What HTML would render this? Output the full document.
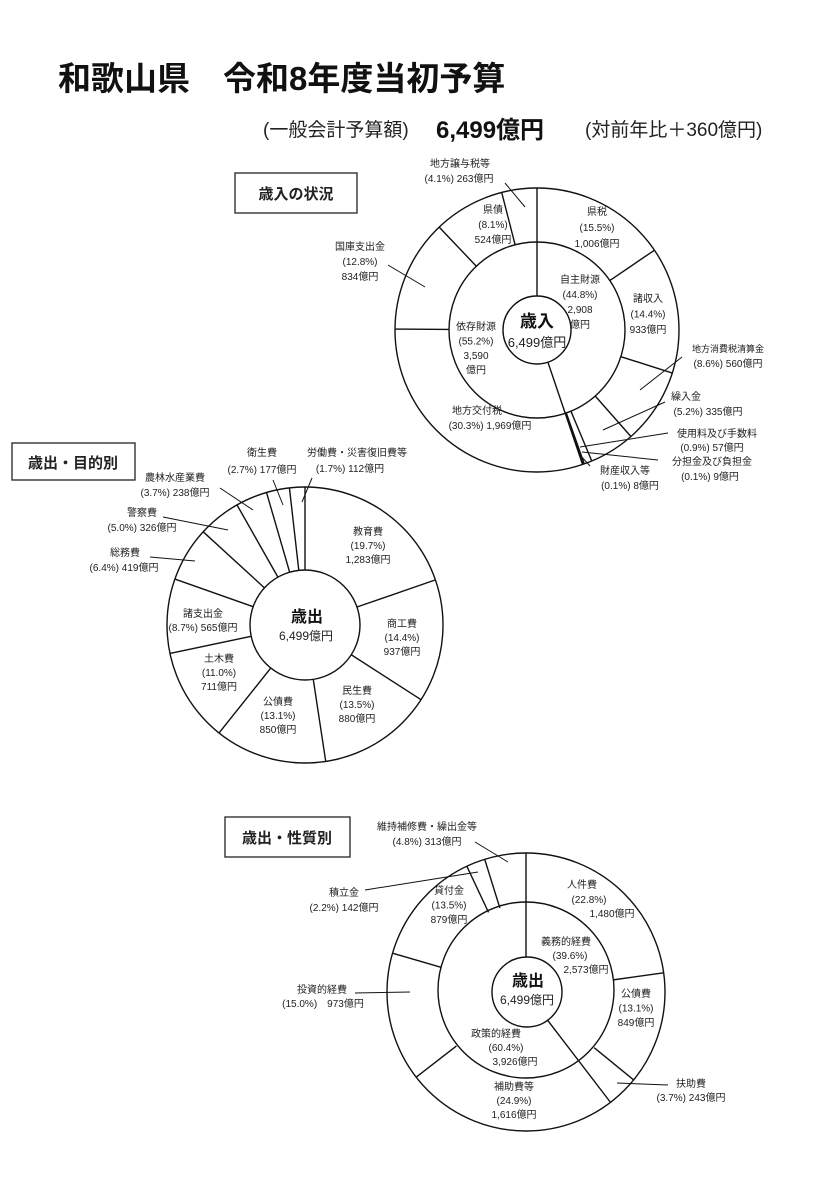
<!DOCTYPE html>
<html><head><meta charset="utf-8"><style>
html,body{margin:0;padding:0;background:#fff;}
svg{display:block;font-family:"Liberation Sans","Noto Sans CJK JP",sans-serif;}
text{fill:#222;font-size:10px;}
</style></head><body>
<svg id="s" width="828" height="1197" viewBox="0 0 828 1197" xmlns="http://www.w3.org/2000/svg">
<text x="58" y="90" style="font-size:33px;font-weight:bold;fill:#111">和歌山県　令和8年度当初予算</text>
<text x="263" y="136" style="font-size:19px;fill:#222">(一般会計予算額)</text>
<text x="436" y="138" style="font-size:24px;font-weight:bold;fill:#111">6,499億円</text>
<text x="585" y="136" style="font-size:19px;fill:#222">(対前年比＋360億円)</text>

<rect x="235" y="173" width="122" height="40" fill="none" stroke="#222" stroke-width="1.3"/>
<text x="296" y="199" text-anchor="middle" style="font-size:15px;font-weight:bold">歳入の状況</text>
<rect x="12" y="443" width="123" height="37" fill="none" stroke="#222" stroke-width="1.3"/>
<text x="73" y="468" text-anchor="middle" style="font-size:15px;font-weight:bold">歳出・目的別</text>
<rect x="225" y="817" width="125" height="40" fill="none" stroke="#222" stroke-width="1.3"/>
<text x="287" y="843" text-anchor="middle" style="font-size:15px;font-weight:bold">歳出・性質別</text>
<g id="g" stroke="#111" stroke-width="1.4" fill="none"></g>
<g id="t" text-anchor="middle"></g>
</svg>
<script>
var g=document.getElementById('g'),t=document.getElementById('t'),NS='http://www.w3.org/2000/svg';
function el(p,n,a){var e=document.createElementNS(NS,n);for(var k in a)e.setAttribute(k,a[k]);p.appendChild(e);return e;}
function circ(cx,cy,r){el(g,'circle',{cx:cx,cy:cy,r:r});}
function rad(cx,cy,r1,r2,pc,w){var a=(-90+3.6*pc)*Math.PI/180;el(g,'line',{x1:cx+r1*Math.cos(a),y1:cy+r1*Math.sin(a),x2:cx+r2*Math.cos(a),y2:cy+r2*Math.sin(a),'stroke-width':w||1.4});}
function ln(a,b,c,d){el(g,'line',{x1:a,y1:b,x2:c,y2:d,'stroke-width':1});}
function tx(x,y,s,st){var e=el(t,'text',{x:x,y:y});if(st)e.setAttribute('style',st);e.textContent=s;}
function lab(x,y,arr,dy){for(var i=0;i<arr.length;i++)tx(x,y+i*(dy||15),arr[i]);}
// chart1
circ(537,330,142);circ(537,330,88);circ(537,330,34);
rad(537,330,34,142,0);rad(537,330,34,142,44.8);
[15.5,29.9,38.5,43.7,44.6,44.7,75.1,87.9,96.0].forEach(function(p){rad(537,330,88,142,p);});
lab(460,167,['地方譲与税等']);tx(459,182,'(4.1%) 263億円');ln(505,183,525,207);
lab(493,213,['県債','(8.1%)','524億円']);
lab(597,215,['県税','(15.5%)','1,006億円'],16);
lab(580,283,['自主財源','(44.8%)','2,908','億円'],15);
lab(648,302,['諸収入','(14.4%)','933億円'],15.5);
lab(476,330,['依存財源','(55.2%)','3,590','億円'],14.5);
tx(537,327,'歳入','font-size:17px;font-weight:bold;fill:#111');tx(537,347,'6,499億円','font-size:13px');
lab(360,250,['国庫支出金','(12.8%)','834億円']);ln(388,265,425,287);
tx(477,414,'地方交付税');tx(490,429,'(30.3%) 1,969億円');
tx(728,352,'地方消費税清算金','font-size:9px');tx(728,367,'(8.6%) 560億円');ln(682,357,640,390);
tx(686,400,'繰入金');tx(708,415,'(5.2%) 335億円');ln(665,402,603,430);
tx(717,437,'使用料及び手数料');tx(712,451,'(0.9%) 57億円');ln(668,433,580,447);
tx(712,465,'分担金及び負担金');tx(710,480,'(0.1%) 9億円');ln(658,460,582,452);
tx(625,474,'財産収入等');tx(630,489,'(0.1%) 8億円');ln(590,466,580,455);
// chart2
circ(305,625,138);circ(305,625,55);
var cum=0;[19.7,14.4,13.5,13.1,11.0,8.7,6.4,5.0,3.7,2.7,1.7].forEach(function(p){rad(305,625,55,138,cum);cum+=p;});
tx(262,456,'衛生費');tx(262,473,'(2.7%) 177億円');ln(273,480,283,505);
tx(357,456,'労働費・災害復旧費等');tx(350,472,'(1.7%) 112億円');ln(312,478,302,502);
tx(175,481,'農林水産業費');tx(175,496,'(3.7%) 238億円');ln(220,488,253,510);
tx(142,516,'警察費');tx(142,531,'(5.0%) 326億円');ln(163,517,228,530);
tx(125,556,'総務費');tx(124,571,'(6.4%) 419億円');ln(150,557,195,561);
lab(368,535,['教育費','(19.7%)','1,283億円'],14);
lab(402,627,['商工費','(14.4%)','937億円'],14);
lab(357,694,['民生費','(13.5%)','880億円'],14);
lab(278,705,['公債費','(13.1%)','850億円'],14);
lab(219,662,['土木費','(11.0%)','711億円'],14);
tx(203,617,'諸支出金');tx(203,631,'(8.7%) 565億円');
tx(307,622,'歳出','font-size:16px;font-weight:bold;fill:#111');tx(306,640,'6,499億円','font-size:12px');
// chart3
circ(526,992,139);circ(526,990,88);circ(527,992,35);
rad(526,992,35,139,0);rad(526,992,35,139,39.6);
[22.8,35.9,64.5,79.5,93.0,95.2].forEach(function(p){rad(526,992,88,139,p);});
tx(427,830,'維持補修費・繰出金等');tx(427,845,'(4.8%) 313億円');ln(475,842,508,862);
tx(344,896,'積立金');tx(344,911,'(2.2%) 142億円');ln(365,890,478,872);
lab(449,894,['貸付金','(13.5%)','879億円'],14.5);
tx(582,888,'人件費');tx(589,903,'(22.8%)');tx(612,917,'1,480億円');
tx(566,945,'義務的経費');tx(570,959,'(39.6%)');tx(586,973,'2,573億円');
lab(636,997,['公債費','(13.1%)','849億円'],14.5);
tx(322,993,'投資的経費');tx(323,1007,'(15.0%)　973億円');ln(355,993,410,992);
tx(496,1037,'政策的経費');tx(506,1051,'(60.4%)');tx(515,1065,'3,926億円');
lab(514,1090,['補助費等','(24.9%)','1,616億円'],14);
tx(691,1087,'扶助費');tx(691,1101,'(3.7%) 243億円');ln(668,1085,617,1083);
tx(528,986,'歳出','font-size:16px;font-weight:bold;fill:#111');tx(527,1004,'6,499億円','font-size:12px');
</script>
</body></html>
